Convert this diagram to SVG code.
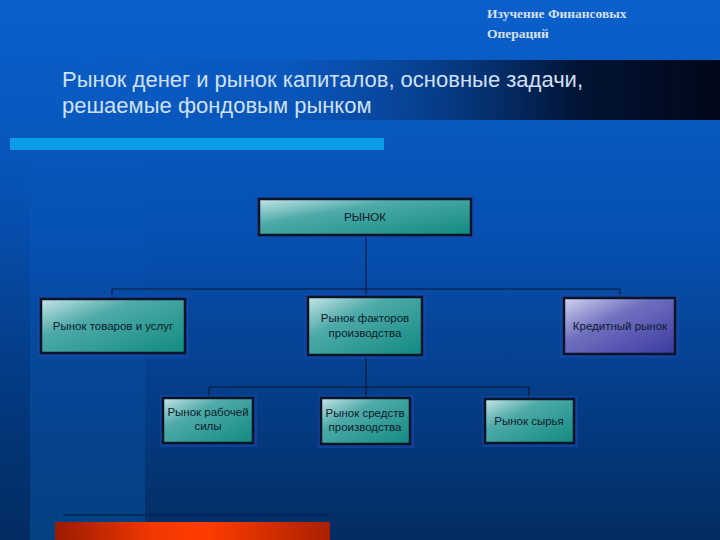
<svg xmlns="http://www.w3.org/2000/svg" width="720" height="540" viewBox="0 0 720 540">
<defs>
<linearGradient id="bg" x1="0" y1="0" x2="0" y2="1">
<stop offset="0" stop-color="#0b60cc"/>
<stop offset="0.45" stop-color="#0650b0"/>
<stop offset="1" stop-color="#032c62"/>
</linearGradient>
<linearGradient id="band" x1="0" y1="0" x2="0" y2="1">
<stop offset="0" stop-color="#0a5ec8" stop-opacity="0"/>
<stop offset="0.5" stop-color="#0858b4" stop-opacity="0.4"/>
<stop offset="1" stop-color="#05559e" stop-opacity="0.85"/>
</linearGradient>
<linearGradient id="strip" x1="0" y1="0" x2="0" y2="1">
<stop offset="0" stop-color="#022c66" stop-opacity="0"/>
<stop offset="1" stop-color="#022c66" stop-opacity="0.4"/>
</linearGradient>
<linearGradient id="titlebar" x1="0" y1="0" x2="1" y2="0">
<stop offset="0" stop-color="#0b5fcc" stop-opacity="0"/>
<stop offset="0.4" stop-color="#0a4fb0" stop-opacity="0.4"/>
<stop offset="0.8" stop-color="#021436"/>
<stop offset="1" stop-color="#010818"/>
</linearGradient>
<linearGradient id="teal" x1="0" y1="0" x2="1" y2="1">
<stop offset="0" stop-color="#c8e6e8"/>
<stop offset="0.35" stop-color="#4eaaa8"/>
<stop offset="1" stop-color="#108a80"/>
</linearGradient>
<linearGradient id="purple" x1="0" y1="0" x2="1" y2="1">
<stop offset="0" stop-color="#d4d4f0"/>
<stop offset="0.4" stop-color="#7070c0"/>
<stop offset="1" stop-color="#3a3aa0"/>
</linearGradient>
<linearGradient id="orange" x1="0" y1="0" x2="1" y2="0">
<stop offset="0" stop-color="#9a1a00"/>
<stop offset="0.35" stop-color="#f03800"/>
<stop offset="0.55" stop-color="#ff3c00"/>
<stop offset="1" stop-color="#a82000"/>
</linearGradient>
<style>
.box{stroke:#0a1428;stroke-width:2.5}
.shadow{fill:#1848a8;opacity:0.6}
.lbl{font-family:"Liberation Sans",Arial,sans-serif;font-size:11.5px;fill:#0c1c2c;text-anchor:middle}
.conn{stroke:#0a1a3a;stroke-width:1.2;fill:none}
.hdr{font-family:"Liberation Serif","Times New Roman",serif;font-weight:bold;font-size:13.5px;fill:#d8e0ee}
.ttl{font-family:"Liberation Sans",Arial,sans-serif;font-size:22px;fill:#d0e0f4}
</style>
</defs>
<rect x="0" y="0" width="720" height="540" fill="url(#bg)"/>
<rect x="0" y="150" width="30" height="390" fill="url(#strip)"/>
<rect x="30" y="150" width="115" height="390" fill="url(#band)" opacity="0.6"/>
<rect x="0" y="60" width="720" height="60" fill="url(#titlebar)"/>
<text class="hdr" x="487" y="18">Изучение Финансовых</text>
<text class="hdr" x="487" y="38">Операций</text>
<text class="ttl" x="62" y="87">Рынок денег и рынок капиталов, основные задачи,</text>
<text class="ttl" x="62" y="113">решаемые фондовым рынком</text>
<rect x="10" y="138" width="374" height="12" fill="#0a9ce6"/>
<line x1="63" y1="515" x2="330" y2="515" stroke="#062050" stroke-width="2" opacity="0.6"/>
<rect x="55" y="522" width="275" height="18" fill="url(#orange)"/>
<g id="connectors">
<path class="conn" d="M366 235 V289 M112 289 H620 M112 289 V298 M366 289 V297 M620 289 V298"/>
<path class="conn" d="M366 355 V387 M209 387 H529 M209 387 V398 M366 387 V398 M529 387 V399"/>
</g>
<g id="n-rynok">
<rect class="shadow" x="256" y="196" width="219" height="43"/>
<rect class="box" x="259" y="199" width="212" height="36" fill="url(#teal)"/>
<text class="lbl" x="365" y="221">РЫНОК</text>
</g>
<g id="n-tovary">
<rect class="shadow" x="37" y="295" width="152" height="63"/>
<rect class="box" x="41" y="299" width="144" height="54" fill="url(#teal)"/>
<text class="lbl" x="113" y="330">Рынок товаров и услуг</text>
</g>
<g id="n-faktory">
<rect class="shadow" x="304" y="293" width="122" height="66"/>
<rect class="box" x="308" y="297" width="114" height="58" fill="url(#teal)"/>
<text class="lbl" x="365" y="322">Рынок факторов</text>
<text class="lbl" x="365" y="337">производства</text>
</g>
<g id="n-kredit">
<rect class="shadow" x="560" y="294" width="119" height="64"/>
<rect class="box" x="564" y="298" width="111" height="56" fill="url(#purple)"/>
<text class="lbl" x="620" y="330">Кредитный рынок</text>
</g>
<g id="n-rabochaya">
<rect class="shadow" x="160" y="395" width="97" height="52"/>
<rect class="box" x="163" y="398" width="90" height="45" fill="url(#teal)"/>
<text class="lbl" x="208" y="416">Рынок рабочей</text>
<text class="lbl" x="208" y="430">силы</text>
</g>
<g id="n-sredstva">
<rect class="shadow" x="318" y="395" width="96" height="53"/>
<rect class="box" x="321" y="398" width="89" height="46" fill="url(#teal)"/>
<text class="lbl" x="365" y="417">Рынок средств</text>
<text class="lbl" x="365" y="431">производства</text>
</g>
<g id="n-syrya">
<rect class="shadow" x="482" y="396" width="96" height="51"/>
<rect class="box" x="485" y="399" width="89" height="44" fill="url(#teal)"/>
<text class="lbl" x="529" y="425">Рынок сырья</text>
</g>
</svg>
